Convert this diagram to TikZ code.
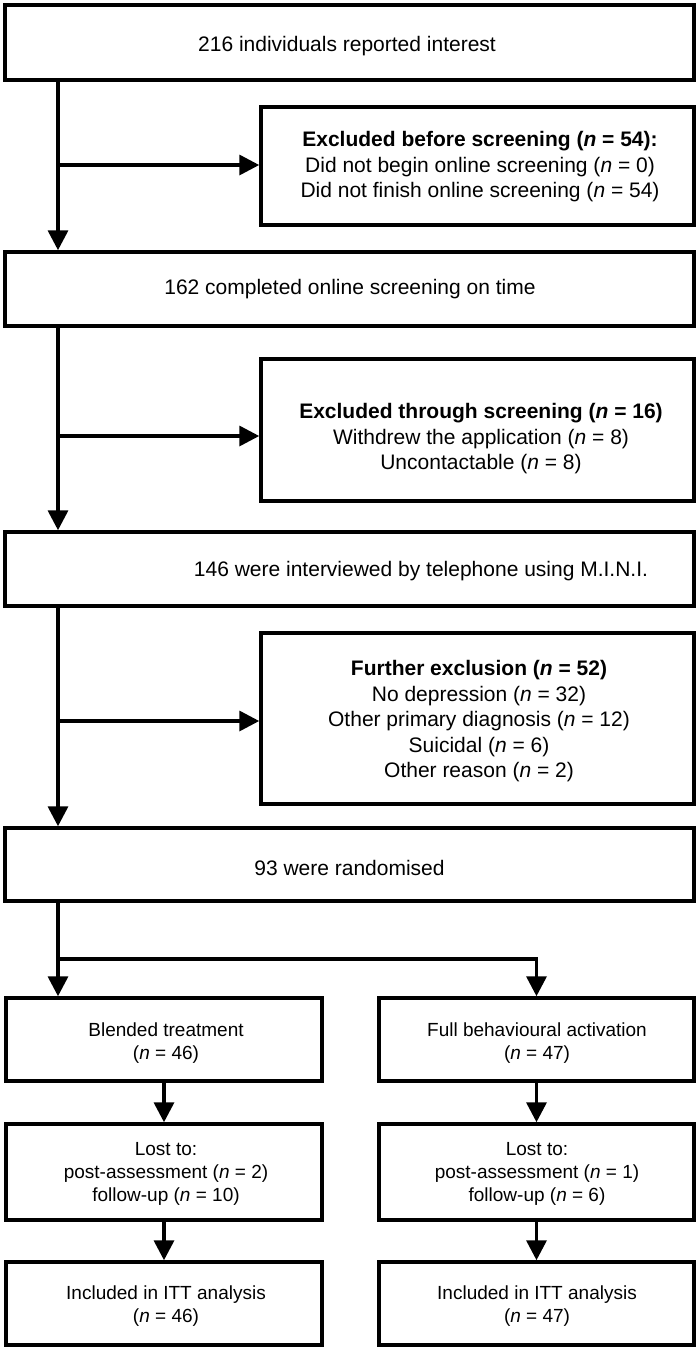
\documentclass[tikz,border=0pt]{standalone}
\usepackage{fontspec}
\setmainfont{Liberation Sans}
\usetikzlibrary{arrows.meta}
\newcommand{\nn}[1]{(\textit{n} = #1)}
\begin{document}
\begin{tikzpicture}[x=1pt,y=-1pt,
  box/.style={draw, line width=3.5pt, inner sep=0pt},
  big/.style={font=\fontsize{21}{25.5}\selectfont, align=center, inner sep=0pt},
  small/.style={font=\fontsize{19}{23}\selectfont, align=center, inner sep=0pt},
  arr/.style={line width=3.5pt, -{Triangle[length=20pt,width=20pt]}}]
\useasboundingbox[fill=white] (0,0) rectangle (700,1352);
% boxes
\node[box, minimum width=689pt, minimum height=75pt] (b1) at (349.5,42.5) {};
\node[box, minimum width=433pt, minimum height=118pt] (e1) at (477.5,166) {};
\node[box, minimum width=689pt, minimum height=74pt] (b2) at (349.5,289) {};
\node[box, minimum width=433pt, minimum height=142pt] (e2) at (477.5,430) {};
\node[box, minimum width=689pt, minimum height=74pt] (b3) at (349.5,569) {};
\node[box, minimum width=433pt, minimum height=171pt] (e3) at (477.5,718.5) {};
\node[box, minimum width=689pt, minimum height=73pt] (b4) at (349.5,864.5) {};
\node[box, minimum width=316pt, minimum height=83pt] (l1) at (164,1039.5) {};
\node[box, minimum width=315pt, minimum height=83pt] (r1) at (536.5,1039.5) {};
\node[box, minimum width=316pt, minimum height=96pt] (l2) at (164,1172) {};
\node[box, minimum width=315pt, minimum height=96pt] (r2) at (536.5,1172) {};
\node[box, minimum width=316pt, minimum height=83pt] (l3) at (164,1303.5) {};
\node[box, minimum width=315pt, minimum height=83pt] (r3) at (536.5,1303.5) {};
% texts
\node[big] (t1) at (347,46) {216 individuals reported interest};
\node[big] (te1) at (480,167) {\textbf{Excluded before screening \nn{54}:}\\Did not begin online screening \nn{0}\\Did not finish online screening \nn{54}};
\node[big] (t2) at (350,289) {162 completed online screening on time};
\node[big] (te2) at (481,439) {\textbf{Excluded through screening \nn{16}}\\Withdrew the application \nn{8}\\Uncontactable \nn{8}};
\node[big] (t3) at (421,571) {146 were interviewed by telephone using M.I.N.I.};
\node[big] (te3) at (479,721.5) {\textbf{Further exclusion \nn{52}}\\No depression \nn{32}\\Other primary diagnosis \nn{12}\\Suicidal \nn{6}\\Other reason \nn{2}};
\node[big] (t4) at (349.5,868) {93 were randomised};
\node[small] (tl1) at (166,1043.5) {Blended treatment\\\nn{46}};
\node[small] (tr1) at (537,1043.5) {Full behavioural activation\\\nn{47}};
\node[small] (tl2) at (166,1174) {Lost to:\\post-assessment \nn{2}\\follow-up \nn{10}};
\node[small] (tr2) at (537,1174) {Lost to:\\post-assessment \nn{1}\\follow-up \nn{6}};
\node[small] (tl3) at (166,1306.5) {Included in ITT analysis\\\nn{46}};
\node[small] (tr3) at (537,1306.5) {Included in ITT analysis\\\nn{47}};
% connectors
\coordinate (tx) at (58,0);
\coordinate (br) at (58,959);
\draw[arr] (b1.south -| tx) -- (b2.north -| tx);
\draw[arr] ([yshift=1pt]e1.west -| tx) -- ([yshift=1pt]e1.west);
\draw[arr] (b2.south -| tx) -- (b3.north -| tx);
\draw[arr] ([yshift=-6pt]e2.west -| tx) -- ([yshift=-6pt]e2.west);
\draw[arr] (b3.south -| tx) -- (b4.north -| tx);
\draw[arr] ([yshift=-2.5pt]e3.west -| tx) -- ([yshift=-2.5pt]e3.west);
\draw[arr] (b4.south -| tx) -- (l1.north -| tx);
\draw[arr] (br) -| (r1.north);
\draw[arr] (l1.south) -- (l2.north);
\draw[arr] (r1.south) -- (r2.north);
\draw[arr] (l2.south) -- (l3.north);
\draw[arr] (r2.south) -- (r3.north);
\end{tikzpicture}
\end{document}
